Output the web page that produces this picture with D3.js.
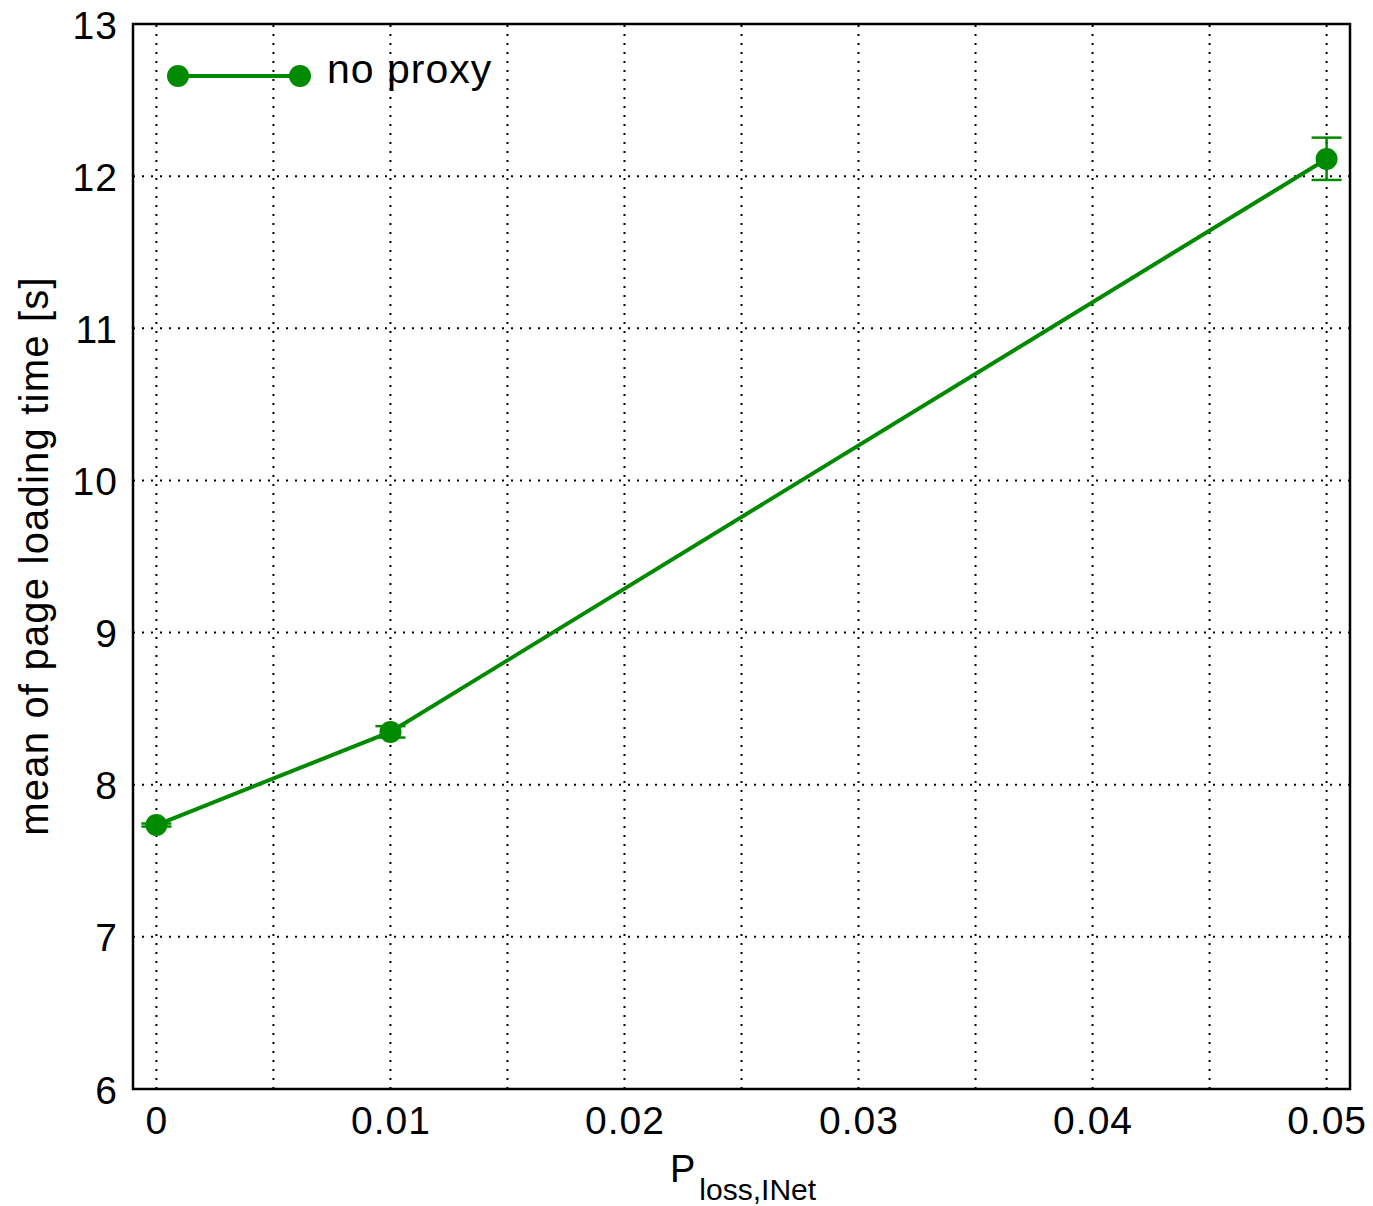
<!DOCTYPE html>
<html>
<head>
<meta charset="utf-8">
<script src="https://cdn.jsdelivr.net/npm/d3@7"></script>
<style>
  body { margin: 0; background: #fff; }
  svg { display: block; font-family: "Liberation Sans", Arial, sans-serif; }
</style>
</head>
<body>
<svg id="chart" width="1373" height="1206"></svg>
<script>
// Data
const lossRates = [0, 0.01, 0.05];
const meanLoadTime = [7.735, 8.347, 12.113];
const errLow = [7.725, 8.31, 11.975];
const errHigh = [7.745, 8.385, 12.253];
const xTicks = [0, 0.01, 0.02, 0.03, 0.04, 0.05];
const xTickLabels = ['0', '0.01', '0.02', '0.03', '0.04', '0.05'];
const xGrid = [0, 0.005, 0.01, 0.015, 0.02, 0.025, 0.03, 0.035, 0.04, 0.045, 0.05];
const yTicks = [6, 7, 8, 9, 10, 11, 12, 13];
const seriesName = 'no proxy';

const green = '#008a00';
const margin = { top: 24, right: 23, bottom: 117, left: 133 };
const width = 1373 - margin.left - margin.right;
const height = 1206 - margin.top - margin.bottom;

const svg = d3.select('#chart');
const g = svg.append('g').attr('transform', `translate(${margin.left},${margin.top})`);

const x = d3.scaleLinear().domain([-0.001, 0.051]).range([0, width]);
const y = d3.scaleLinear().domain([6, 13]).range([height, 0]);

// Dotted grid
const grid = g.append('g')
  .attr('stroke', '#000')
  .attr('stroke-width', 2)
  .attr('stroke-dasharray', '2,7');

grid.selectAll('.vgrid')
  .data(xGrid)
  .join('line')
  .attr('x1', (d) => x(d))
  .attr('x2', (d) => x(d))
  .attr('y1', height)
  .attr('y2', 0);

grid.selectAll('.hgrid')
  .data(yTicks.slice(1, -1))
  .join('line')
  .attr('y1', (d) => y(d))
  .attr('y2', (d) => y(d))
  .attr('x1', 0)
  .attr('x2', width);

// Axes labels
const xAxis = d3.axisBottom(x)
  .tickValues(xTicks)
  .tickFormat((d, i) => xTickLabels[i])
  .tickSize(0)
  .tickPadding(17);

g.append('g')
  .attr('transform', `translate(0,${height})`)
  .call(xAxis)
  .call((s) => s.select('.domain').remove())
  .selectAll('text')
  .attr('fill', '#000')
  .style('font-size', '39px')
  .style('letter-spacing', '1px')
  .style('font-family', '"Liberation Sans", Arial, sans-serif');

const yAxis = d3.axisLeft(y)
  .tickValues(yTicks)
  .tickFormat(d3.format('d'))
  .tickSize(0)
  .tickPadding(15);

g.append('g')
  .call(yAxis)
  .call((s) => s.select('.domain').remove())
  .selectAll('text')
  .attr('fill', '#000')
  .attr('dy', '0.36em')
  .style('font-size', '39px')
  .style('letter-spacing', '1px')
  .style('font-family', '"Liberation Sans", Arial, sans-serif');

// Frame
g.append('rect')
  .attr('x', 0)
  .attr('y', 0)
  .attr('width', width)
  .attr('height', height)
  .attr('fill', 'none')
  .attr('stroke', '#000')
  .attr('stroke-width', 2.5);

// Series
const points = lossRates.map((d, i) => ({
  x: d,
  y: meanLoadTime[i],
  lo: errLow[i],
  hi: errHigh[i],
}));

const line = d3.line().x((d) => x(d.x)).y((d) => y(d.y));

g.append('path')
  .datum(points)
  .attr('d', line)
  .attr('fill', 'none')
  .attr('stroke', green)
  .attr('stroke-width', 4);

const errs = g.append('g').attr('stroke', green).attr('stroke-width', 2.5);
points.forEach((d) => {
  errs.append('line')
    .attr('x1', x(d.x)).attr('x2', x(d.x))
    .attr('y1', y(d.lo)).attr('y2', y(d.hi));
  [d.lo, d.hi].forEach((v) => {
    errs.append('line')
      .attr('x1', x(d.x) - 15).attr('x2', x(d.x) + 15)
      .attr('y1', y(v)).attr('y2', y(v));
  });
});

g.selectAll('.pt')
  .data(points)
  .join('circle')
  .attr('cx', (d) => d3.format('')(x(d.x)))
  .attr('cy', (d) => y(d.y))
  .attr('r', 11)
  .attr('fill', green);

// Legend
const legend = g.append('g').attr('transform', 'translate(45,52)');
legend.append('line')
  .attr('x1', 0).attr('x2', 122)
  .attr('stroke', green).attr('stroke-width', 4);
legend.selectAll('circle')
  .data([0, 122])
  .join('circle')
  .attr('cx', (d) => d)
  .attr('r', 11)
  .attr('fill', green);
legend.append('text')
  .attr('x', 149)
  .attr('y', 7)
  .attr('fill', '#000')
  .style('font-size', '41px')
  .style('letter-spacing', '1px')
  .text(seriesName);

// Axis titles
const xTitle = svg.append('text')
  .attr('x', 670)
  .attr('y', 1182)
  .attr('fill', '#000')
  .style('font-size', '38px');
xTitle.append('tspan').text('P');
xTitle.append('tspan')
  .attr('dy', 18)
  .attr('dx', 4)
  .style('font-size', '30px')
  .text('loss,INet');

svg.append('text')
  .attr('transform', 'rotate(-90)')
  .attr('x', -556)
  .attr('y', 48)
  .attr('text-anchor', 'middle')
  .attr('fill', '#000')
  .style('font-size', '40px')
  .style('letter-spacing', '1.2px')
  .text('mean of page loading time [s]');
</script>
</body>
</html>
